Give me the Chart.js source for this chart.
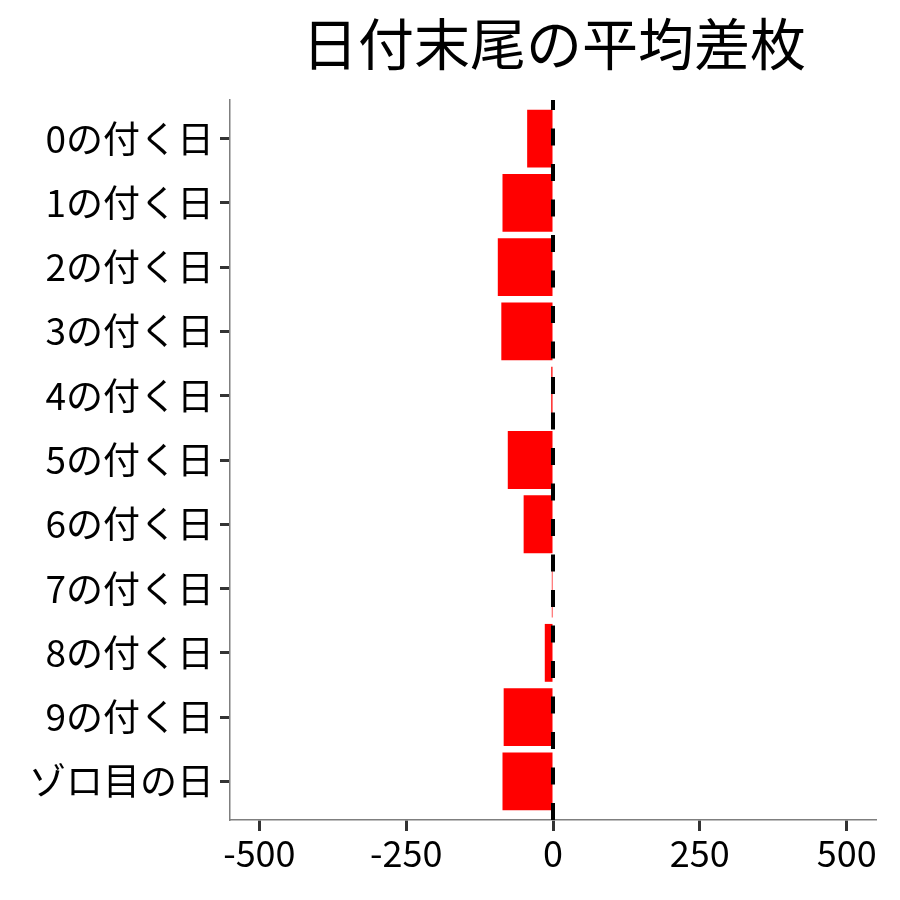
<!DOCTYPE html>
<html>
<head>
<meta charset="utf-8">
<script src="https://cdn.jsdelivr.net/npm/chart.js@4/dist/chart.umd.min.js"></script>
<style>
  html, body { margin: 0; padding: 0; background: #fff; }
  #wrap { width: 900px; height: 900px; }
</style>
</head>
<body>
<div id="wrap"><canvas id="barCanvas" width="900" height="900"></canvas></div>
<script>
// donnees
const titre = '日付末尾の平均差枚';
const categories = ['0の付く日', '1の付く日', '2の付く日', '3の付く日', '4の付く日',
    '5の付く日', '6の付く日', '7の付く日', '8の付く日', '9の付く日', 'ゾロ目の日'];
const moyennes = [-44, -86, -94, -88, -3, -77, -50, -2, -14, -84, -86];
const xTicks = [-500, -250, 0, 250, 500];

const police = '"Noto Sans CJK JP", "Noto Sans", sans-serif';

// titre centre sur la zone du graphe + ligne pointillee a 0
const decor = {
    id: 'decor',
    afterDatasetsDraw(chart) {
        const { ctx, chartArea, scales } = chart;
        const x0 = scales.x.getPixelForValue(0);
        ctx.save();
        ctx.strokeStyle = '#000';
        ctx.lineWidth = 4;
        ctx.setLineDash([17, 18.5]);
        ctx.beginPath();
        ctx.moveTo(x0, chartArea.bottom);
        ctx.lineTo(x0, chartArea.top);
        ctx.stroke();
        ctx.restore();
    },
    afterDraw(chart) {
        const { ctx, chartArea } = chart;
        ctx.save();
        ctx.fillStyle = '#000';
        ctx.font = '56px ' + police;
        ctx.textAlign = 'center';
        ctx.textBaseline = 'middle';
        ctx.fillText(titre, (chartArea.left + chartArea.right) / 2 + 1, 44);
        ctx.restore();
    }
};

function graphMoyennes() {
    const canvas = document.getElementById('barCanvas');
    return new Chart(canvas, {
        type: 'bar',
        data: {
            datasets: [{
                data: moyennes.map((v, i) => ({ x: v, y: i })),
                backgroundColor: '#ff0000',
                borderWidth: 0,
                barPercentage: 0.9,
                categoryPercentage: 1.0
            }]
        },
        options: {
            indexAxis: 'y',
            responsive: false,
            animation: false,
            layout: { padding: { top: 100, right: 24, left: 0, bottom: 0 } },
            plugins: {
                legend: { display: false },
                title: { display: false },
                tooltip: { enabled: false }
            },
            scales: {
                x: {
                    type: 'linear',
                    min: -550,
                    max: 550,
                    afterBuildTicks: s => { s.ticks = xTicks.map(v => ({ value: v })); },
                    afterFit: s => { s.height = 80; },
                    grid: { drawOnChartArea: false, tickLength: 11, tickColor: '#333', tickWidth: 3 },
                    border: { color: '#7f7f7f', width: 1.5 },
                    ticks: { color: '#000', font: { family: police, size: 36 }, padding: 1, maxRotation: 0 }
                },
                y: {
                    type: 'linear',
                    reverse: true,
                    offset: false,
                    min: -0.6,
                    max: 10.6,
                    afterBuildTicks: s => { s.ticks = categories.map((c, i) => ({ value: i })); },
                    afterFit: s => { s.width = 230; },
                    grid: { offset: false, drawOnChartArea: false, tickLength: 10, tickColor: '#333', tickWidth: 3 },
                    border: { color: '#7f7f7f', width: 1.5 },
                    ticks: {
                        color: '#000',
                        font: { family: police, size: 37 },
                        padding: 6,
                        callback: v => categories[v]
                    }
                }
            }
        },
        plugins: [decor]
    });
}

graphMoyennes();
</script>
</body>
</html>
